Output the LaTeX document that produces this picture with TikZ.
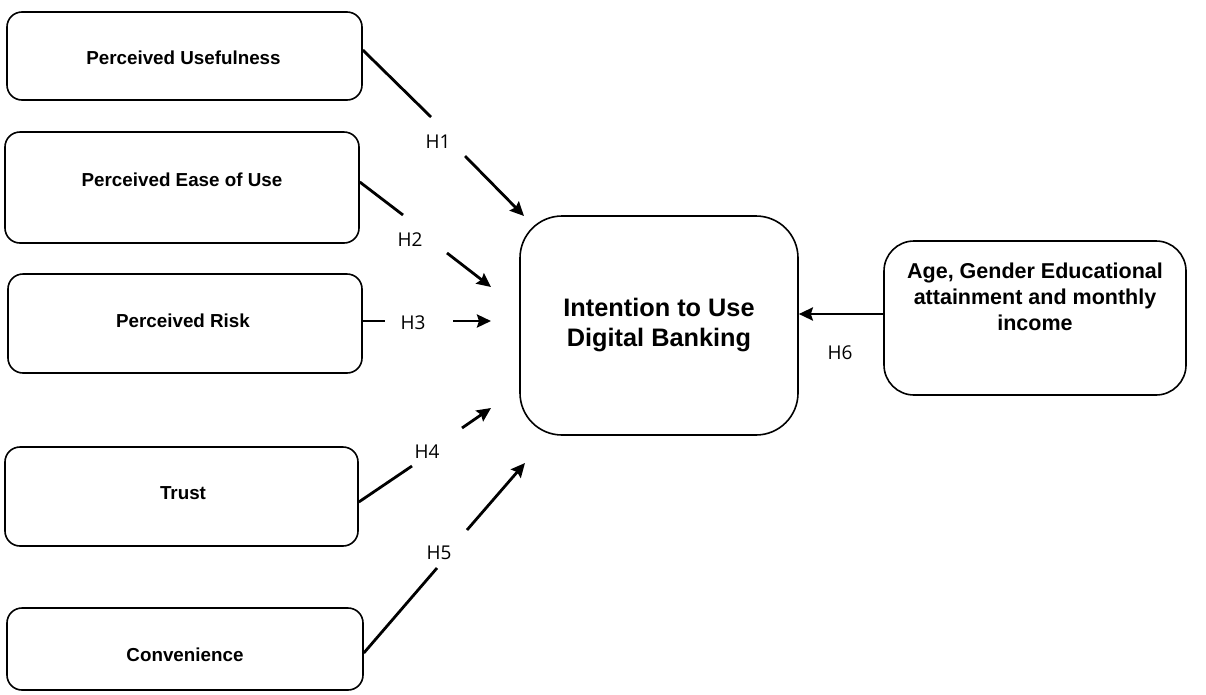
\documentclass[tikz,border=0pt]{standalone}
\usepackage{fontspec}
\setmainfont{Liberation Sans}
\newfontfamily\hfont{Open Sans}
\usetikzlibrary{arrows.meta}
\tikzset{
  box/.style={draw=black, line width=1.6pt, rounded corners=15pt, inner sep=0pt},
  bigbox/.style={draw=black, line width=1.6pt, rounded corners=42pt, inner sep=0pt},
  demobox/.style={draw=black, line width=1.6pt, rounded corners=30pt, inner sep=0pt},
  boxtext/.style={font=\bfseries\fontsize{18.8}{22}\selectfont, inner sep=0pt},
  conn/.style={line width=2.8pt, black},
  arr/.style={line width=2.8pt, black, -{Stealth[length=14pt,width=13pt,inset=2pt]}},
  hlab/.style={font=\hfont\fontsize{19}{22}\selectfont, inner sep=0pt}
}
\begin{document}
\begin{tikzpicture}[x=1pt,y=-1pt]
\useasboundingbox (0,0) rectangle (1206,694);
% boxes
\node[box, minimum width=355pt, minimum height=88pt] (pu) at (184.5,56) {};
\node[boxtext] (putext) at (183.5,58) {Perceived Usefulness};
\node[box, minimum width=354pt, minimum height=111pt] (pe) at (182,187.5) {};
\node[boxtext] (petext) at (182,180) {Perceived Ease of Use};
\node[box, minimum width=354pt, minimum height=99pt] (pr) at (185,323.5) {};
\node[boxtext] (prtext) at (183,321) {Perceived Risk};
\node[box, minimum width=353pt, minimum height=99pt] (tr) at (181.5,496.5) {};
\node[boxtext] (trtext) at (183,493) {Trust};
\node[box, minimum width=356pt, minimum height=82pt] (cv) at (185,649) {};
\node[boxtext] (cvtext) at (185,655) {Convenience};
\node[bigbox, minimum width=278pt, minimum height=219pt] (itu) at (659,325.5) {};
\node[font=\bfseries\fontsize{25.3}{30}\selectfont, align=center, inner sep=0pt] (itutext) at (659,325) {Intention to Use\\Digital Banking};
\node[demobox, minimum width=302pt, minimum height=154pt] (demo) at (1035,318) {};
\node[font=\bfseries\fontsize{21.5}{26}\selectfont, align=center, inner sep=0pt] (demotext) at (1035,297) {Age, Gender Educational\\attainment and monthly\\income};
% break points
\coordinate (h1a) at (431,117);
\coordinate (h1b) at (465,156);
\coordinate (i1) at (524,216);
\coordinate (h2a) at (403,215);
\coordinate (h2b) at (447,253);
\coordinate (i2) at (491,287);
\coordinate (h3a) at (385,321);
\coordinate (h3b) at (453,321);
\coordinate (i3) at (491,321);
\coordinate (h4a) at (412,466);
\coordinate (h4b) at (462,428);
\coordinate (i4) at (491,408);
\coordinate (h5a) at (437,568);
\coordinate (h5b) at (467,530);
\coordinate (i5) at (525,463);
% labels
\node[hlab] (h1) at (438,142) {H1};
\node[hlab] (h2) at (410,240) {H2};
\node[hlab] (h3) at (413,323) {H3};
\node[hlab] (h4) at (427,452) {H4};
\node[hlab] (h5) at (439,553) {H5};
\node[hlab] (h6) at (840,353) {H6};
% connectors
\draw[conn] ([yshift=6pt]pu.east) -- (h1a);
\draw[arr] (h1b) -- (i1);
\draw[conn] ([yshift=5.5pt]pe.east) -- (h2a);
\draw[arr] (h2b) -- (i2);
\draw[conn] ([yshift=2.5pt]pr.east) -- (h3a);
\draw[arr] (h3b) -- (i3);
\draw[conn] ([yshift=-5.5pt]tr.east) -- (h4a);
\draw[arr] (h4b) -- (i4);
\draw[conn] ([yshift=-4pt]cv.east) -- (h5a);
\draw[arr] (h5b) -- (i5);
\draw[arr] ([yshift=4pt]demo.west) -- ([yshift=11.5pt]itu.east);
\end{tikzpicture}
\end{document}
